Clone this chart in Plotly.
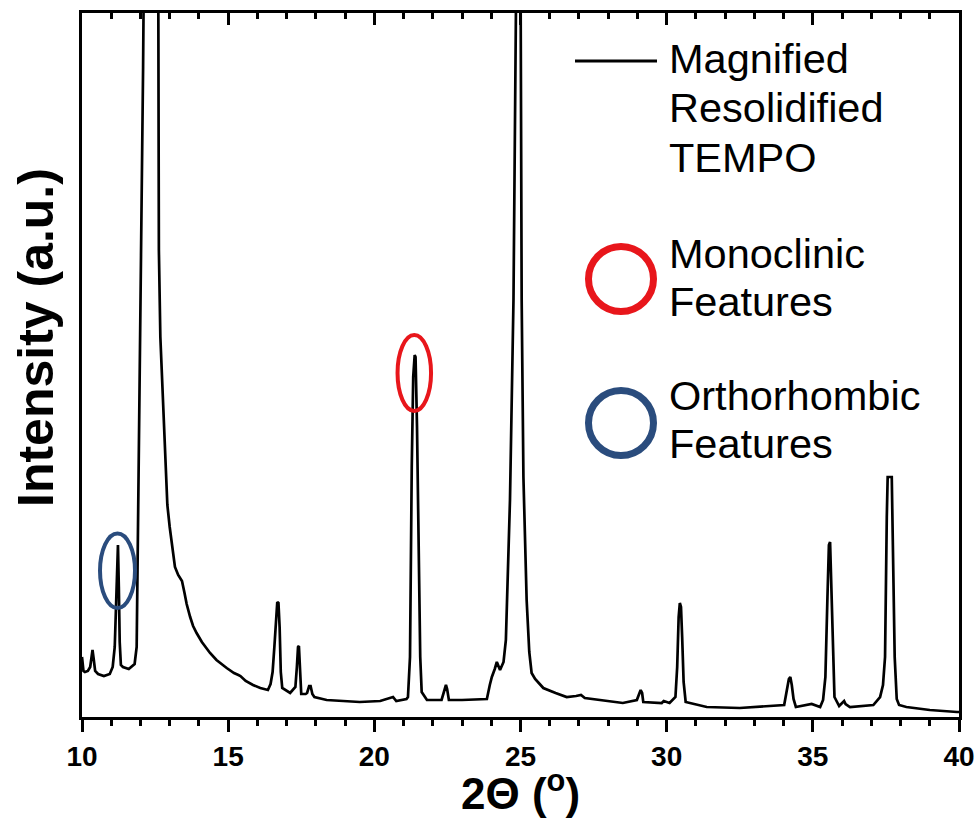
import plotly.graph_objects as go

# ---- data (2-theta in degrees, intensity in a.u.) ----
two_theta = [10.0, 10.05, 10.1, 10.2, 10.28, 10.33, 10.36, 10.4, 10.45, 10.55,
             10.75, 10.95, 11.05, 11.12, 11.17, 11.21, 11.23, 11.26, 11.29, 11.33,
             11.4, 11.6, 11.8, 11.87, 11.92, 11.97, 12.04, 12.09, 12.12, 12.35,
             12.6, 12.62, 12.63, 12.68, 12.77, 12.85, 12.92, 13.0, 13.1, 13.18,
             13.29, 13.36, 13.42, 13.5, 13.58, 13.7, 13.8, 13.92, 14.1, 14.38,
             14.6, 14.95, 15.2, 15.35, 15.42, 15.6, 15.85, 16.1, 16.36, 16.45,
             16.52, 16.58, 16.63, 16.68, 16.72, 16.76, 16.8, 16.85, 17.12, 17.3,
             17.35, 17.39, 17.42, 17.46, 17.5, 17.65, 17.7, 17.77, 17.82, 17.88,
             17.95, 18.37, 19.5, 20.2, 20.64, 20.75, 21.1, 21.15, 21.22, 21.28,
             21.33, 21.38, 21.41, 21.46, 21.52, 21.57, 21.62, 21.8, 22.3, 22.42,
             22.45, 22.49, 22.55, 23.0, 23.85, 23.95, 24.02, 24.12, 24.19, 24.3,
             24.42, 24.5, 24.64, 24.76, 24.82, 24.9, 25.0, 25.04, 25.1, 25.21,
             25.3, 25.38, 25.5, 25.78, 26.2, 26.58, 26.9, 27.07, 27.2, 27.72,
             28.5, 28.98, 29.06, 29.11, 29.16, 29.2, 29.83, 29.9, 30.1, 30.3,
             30.36, 30.41, 30.45, 30.49, 30.53, 30.58, 30.65, 31.37, 32.5, 34.02,
             34.1, 34.18, 34.23, 34.28, 34.34, 34.42, 34.96, 35.25, 35.35, 35.43,
             35.5, 35.55, 35.59, 35.63, 35.68, 35.74, 35.9, 36.03, 36.07, 36.12,
             36.27, 37.07, 37.3, 37.4, 37.47, 37.53, 37.56, 37.7, 37.74, 37.8,
             37.87, 37.95, 38.2, 39.0, 39.93, 40.0]
intensity = [60, 46, 45, 46, 50, 64, 67, 58, 46, 43,
             41, 43, 50, 70, 130, 170, 172, 130, 75, 52,
             50, 48, 53, 70, 200, 330, 467, 650, 760, 900,
             850, 600, 467, 380, 317, 250, 212, 190, 165, 150,
             142, 138, 136, 125, 113, 100, 91, 84, 75, 64,
             57, 49, 44, 42, 41, 36, 32, 29, 27, 33,
             45, 70, 100, 115, 114, 90, 45, 29, 24, 30,
             50, 70, 71, 45, 23, 23, 24, 31, 31, 23,
             20, 17, 15, 16, 20, 16, 18, 20, 60, 250,
             340, 362, 360, 290, 150, 60, 25, 17, 17, 28,
             32, 28, 17, 17, 18, 32, 40, 48, 55, 47,
             55, 77, 217, 417, 760, 900, 760, 417, 240, 117,
             65, 44, 38, 29, 24, 20, 21, 22, 19, 17,
             14, 17, 24, 27, 24, 15, 14, 16, 14, 20,
             50, 100, 114, 110, 80, 35, 15, 10, 9, 12,
             25, 38, 40, 32, 18, 10, 13, 10, 17, 40,
             120, 172, 175, 130, 60, 20, 11, 15, 16, 13,
             10, 12, 20, 32, 60, 200, 240, 240, 180, 60,
             18, 12, 10, 7, 5, 5]

x_range = [10, 40]
y_range = [0, 704]
x_ticks = [10, 15, 20, 25, 30, 35, 40]

legend_lines = ["Magnified", "Resolidified", "TEMPO"]
mono_lines = ["Monoclinic", "Features"]
ortho_lines = ["Orthorhombic", "Features"]

RED = "#E8161B"
BLUE = "#2A4C7D"
FONT = "Arial, Liberation Sans, sans-serif"

W, H = 980, 821
L, R, T, B = 82, 21, 13, 104


def px(x):
    return (x - L) / (W - L - R)


def py(y):
    return (H - B - y) / (H - T - B)


fig = go.Figure()
fig.add_trace(go.Scatter(x=two_theta, y=intensity, mode="lines",
                         line=dict(color="black", width=2.7),
                         showlegend=False, hoverinfo="skip"))
# invisible copy so the top (inside-tick) axis is drawn
fig.add_trace(go.Scatter(x=two_theta, y=intensity, mode="lines", xaxis="x2",
                         line=dict(color="rgba(0,0,0,0)", width=0),
                         showlegend=False, hoverinfo="skip"))

axis_common = dict(range=x_range, showgrid=False, zeroline=False,
                   showline=True, linecolor="black", linewidth=3,
                   tickmode="array", tickvals=x_ticks, automargin=False,
                   tickcolor="black", tickwidth=2.5, ticklen=12)

fig.update_layout(
    width=W, height=H,
    margin=dict(l=L, r=R, t=T, b=B, autoexpand=False),
    paper_bgcolor="white", plot_bgcolor="white",
    xaxis=dict(**axis_common, ticks="outside",
               ticktext=[str(v) for v in x_ticks],
               tickfont=dict(family=FONT, size=28, color="black", weight="bold"),
               minor=dict(dtick=1, tick0=10, ticks="outside", ticklen=6,
                          tickwidth=2.5, tickcolor="black", showgrid=False)),
    xaxis2=dict(**axis_common, ticks="inside", overlaying="x", side="top",
                showticklabels=False,
                minor=dict(dtick=1, tick0=10, ticks="inside", ticklen=6,
                           tickwidth=2.5, tickcolor="black", showgrid=False)),
    yaxis=dict(range=y_range, showgrid=False, zeroline=False, showline=True,
               linecolor="black", linewidth=3, mirror=True, ticks="",
               showticklabels=False, automargin=False),
)

shapes = []
# ellipses marking features on the pattern (data coordinates)
shapes.append(dict(type="circle", xref="x", yref="y",
                   x0=10.616, x1=11.813, y0=109, y1=183.5,
                   line=dict(color=BLUE, width=4)))
shapes.append(dict(type="circle", xref="x", yref="y",
                   x0=20.794, x1=21.94, y0=306, y1=382,
                   line=dict(color=RED, width=4)))
# legend symbols
shapes.append(dict(type="line", xref="paper", yref="paper",
                   x0=px(575), x1=px(657), y0=py(61), y1=py(61),
                   line=dict(color="black", width=3)))
for cy, col in [(279, RED), (423, BLUE)]:
    r = 32.5
    shapes.append(dict(type="circle", xref="paper", yref="paper",
                       x0=px(621 - r), x1=px(621 + r),
                       y0=py(cy + r), y1=py(cy - r),
                       line=dict(color=col, width=7)))
fig.update_layout(shapes=shapes)

ann = []
for txt, yc in zip(legend_lines + mono_lines + ortho_lines,
                   [58, 108, 158, 253, 301, 396, 443]):
    ann.append(dict(text=txt, xref="paper", yref="paper", x=px(667), y=py(yc),
                    xanchor="left", yanchor="middle", showarrow=False,
                    font=dict(family=FONT, size=41.5, color="black")))
ann.append(dict(text="<b>2Θ (<sup>o</sup>)</b>", xref="paper", yref="paper",
                x=0.5, y=py(790), xanchor="center", yanchor="middle",
                showarrow=False, font=dict(family=FONT, size=44, color="black")))
ann.append(dict(text="<b>Intensity (a.u.)</b>", xref="paper", yref="paper",
                x=px(36), y=py(338), xanchor="center", yanchor="middle",
                textangle=-90, showarrow=False,
                font=dict(family=FONT, size=50, color="black")))
fig.update_layout(annotations=ann)

fig.write_html("out.html")
